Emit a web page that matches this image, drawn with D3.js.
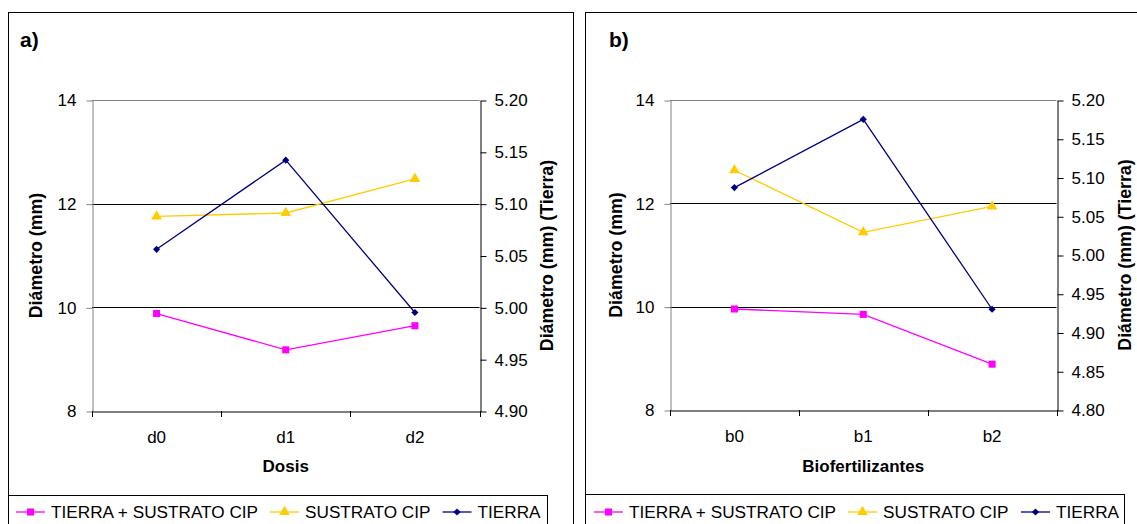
<!DOCTYPE html>
<html>
<head>
<meta charset="utf-8">
<script src="https://cdn.jsdelivr.net/npm/d3@7"></script>
<style>
  body { margin: 0; background: #fff; }
  svg { display: block; font-family: "Liberation Sans", Arial, sans-serif; }
</style>
</head>
<body>
<div id="chart"></div>
<script>
// categories
const dosisCats = ['d0', 'd1', 'd2']
const bioCats = ['b0', 'b1', 'b2']

// series values
const dosisTierraSustrato = [9.88, 9.18, 9.645]
const dosisSustrato = [11.755, 11.82, 12.48]
const dosisTierra = [5.056, 5.142, 4.995]

const bioTierraSustrato = [9.955, 9.85, 8.887]
const bioSustrato = [12.64, 11.44, 11.94]
const bioTierra = [5.087, 5.175, 4.930]

// tick labels
const leftTicks = [8, 10, 12, 14]
const rightTicksA = [4.90, 4.95, 5.00, 5.05, 5.10, 5.15, 5.20]
const rightTicksB = [4.80, 4.85, 4.90, 4.95, 5.00, 5.05, 5.10, 5.15, 5.20]

const seriesNames = ['TIERRA + SUSTRATO CIP', 'SUSTRATO CIP', 'TIERRA']
const seriesColors = ['#ff00ff', '#ffcc00', '#000080']

const W = 1137, H = 524
const svg = d3.select('#chart').append('svg').attr('width', W).attr('height', H)

// marker: square, triangle, diamond (rotated square)
function marker(sel, si) {
    if (si === 2) {
        sel.append('path')
            .attr('d', d3.symbol().type(d3.symbolSquare).size(26))
            .attr('transform', 'rotate(45)')
            .attr('fill', seriesColors[si])
    } else {
        sel.append('path')
            .attr('d', d3.symbol().type(si === 0 ? d3.symbolSquare : d3.symbolTriangle).size(50))
            .attr('fill', seriesColors[si])
    }
}

function drawPanel(p) {
    const g = svg.append('g')

    // outer frame
    g.append('rect')
        .attr('x', p.frame[0] + 0.5).attr('y', 12.5)
        .attr('width', p.frame[1] - p.frame[0]).attr('height', 600)
        .attr('fill', 'none').attr('stroke', '#000')

    g.append('text')
        .attr('x', p.labelX).attr('y', 47)
        .attr('font-size', 21).attr('font-weight', 'bold')
        .text(p.label)

    const xScale = d3.scaleBand().domain(p.cats).range([p.left, p.right])
    const yLeft = d3.scaleLinear().domain([8, 14]).range([p.bottom, p.top])
    const yRight = d3.scaleLinear().domain(p.rightDomain).range([p.bottom, p.top])

    // gridlines
    g.selectAll('.grid')
        .data([10, 12])
        .enter()
        .append('line')
        .attr('x1', p.left).attr('x2', p.right)
        .attr('y1', d => Math.round(yLeft(d)) + 0.5)
        .attr('y2', d => Math.round(yLeft(d)) + 0.5)
        .attr('stroke', '#000')

    // top border of plot area
    g.append('line')
        .attr('x1', p.left).attr('x2', p.right)
        .attr('y1', Math.round(yLeft(14)) + 0.5).attr('y2', Math.round(yLeft(14)) + 0.5)
        .attr('stroke', '#808080')

    // left axis
    const leftAxis = g.append('g')
        .attr('transform', 'translate(' + (Math.round(p.left) + 0.5) + ',0.5)')
        .call(d3.axisLeft(yLeft).tickValues(leftTicks).tickFormat(d3.format('d'))
            .tickSize(6).tickSizeOuter(0).tickPadding(10))
    leftAxis.select('.domain').attr('stroke', '#808080')
    leftAxis.selectAll('.tick line').attr('stroke', '#808080')
    leftAxis.selectAll('text').attr('font-size', 17).attr('fill', '#000')
        .attr('font-family', '"Liberation Sans", Arial, sans-serif')

    // right axis
    const rightAxis = g.append('g')
        .attr('transform', 'translate(' + (Math.round(p.right) + 0.5) + ',0.5)')
        .call(d3.axisRight(yRight).tickValues(p.rightTicks).tickFormat(d3.format('.2f'))
            .tickSize(6).tickSizeOuter(0).tickPadding(8))
    rightAxis.selectAll('text').attr('font-size', 17).attr('fill', '#000')
        .attr('font-family', '"Liberation Sans", Arial, sans-serif')

    // bottom axis: labels at band centres, ticks at band edges
    const bottomAxis = g.append('g')
        .attr('transform', 'translate(0,' + (Math.round(p.bottom) + 0.5) + ')')
        .call(d3.axisBottom(xScale).tickSize(0).tickSizeOuter(0).tickPadding(19))
    bottomAxis.select('.domain').attr('stroke', '#000')
    bottomAxis.selectAll('text').attr('font-size', 17).attr('fill', '#000')
        .attr('font-family', '"Liberation Sans", Arial, sans-serif')
    const edges = p.cats.map(c => xScale(c)).concat([xScale(p.cats[p.cats.length - 1]) + xScale.bandwidth()])
    g.selectAll('.xtick')
        .data(edges)
        .enter()
        .append('line')
        .attr('x1', d => Math.round(d) + 0.5).attr('x2', d => Math.round(d) + 0.5)
        .attr('y1', p.bottom).attr('y2', p.bottom + 6)
        .attr('stroke', '#000')

    // axis titles
    g.append('text')
        .attr('x', (p.left + p.right) / 2).attr('y', 472)
        .attr('text-anchor', 'middle').attr('font-size', 17).attr('font-weight', 'bold')
        .text(p.xTitle)
    const midY = (p.top + p.bottom) / 2
    g.append('text')
        .attr('transform', 'translate(' + p.leftTitleX + ',' + midY + ') rotate(-90)')
        .attr('text-anchor', 'middle').attr('dy', '0.35em')
        .attr('font-size', 17.8).attr('font-weight', 'bold')
        .text('Diámetro (mm)')
    g.append('text')
        .attr('transform', 'translate(' + p.rightTitleX + ',' + midY + ') rotate(-90)')
        .attr('text-anchor', 'middle').attr('dy', '0.35em')
        .attr('font-size', 17.8).attr('font-weight', 'bold')
        .text('Diámetro (mm) (Tierra)')

    // series
    const series = [
        { values: p.tierraSustrato, y: yLeft },
        { values: p.sustrato, y: yLeft },
        { values: p.tierra, y: yRight }
    ]
    series.forEach((s, si) => {
        const pts = s.values.map((v, i) => [xScale(p.cats[i]) + xScale.bandwidth() / 2, s.y(v)])
        g.append('path')
            .attr('d', d3.line()(pts))
            .attr('fill', 'none')
            .attr('stroke', seriesColors[si])
            .attr('stroke-width', 1.3)
        g.selectAll('.m' + si)
            .data(pts)
            .enter()
            .append('g')
            .attr('transform', d => 'translate(' + d[0] + ',' + d[1] + ')')
            .each(function () { marker(d3.select(this), si) })
    })

    // legend
    const lg = g.append('g')
    lg.append('rect')
        .attr('x', p.frame[0] + 0.5).attr('y', p.legendTop + 0.5)
        .attr('width', p.legendRight - p.frame[0]).attr('height', 60)
        .attr('fill', '#fff').attr('stroke', '#000')
    seriesNames.forEach((name, si) => {
        const x0 = p.legendItems[si]
        const ly = 512
        lg.append('line')
            .attr('x1', x0).attr('x2', x0 + 29)
            .attr('y1', ly).attr('y2', ly)
            .attr('stroke', seriesColors[si]).attr('stroke-width', 1.3)
        lg.append('g')
            .attr('transform', 'translate(' + (x0 + 14.5) + ',' + ly + ')')
            .call(sel => marker(sel, si))
        lg.append('text')
            .attr('x', x0 + 35).attr('y', ly).attr('dy', '0.35em')
            .attr('font-size', 17.2)
            .text(name)
    })
}

drawPanel({
    frame: [8, 573], label: 'a)', labelX: 20,
    cats: dosisCats, left: 92, right: 479.5, top: 100, bottom: 411,
    rightDomain: [4.90, 5.20], rightTicks: rightTicksA,
    tierraSustrato: dosisTierraSustrato, sustrato: dosisSustrato, tierra: dosisTierra,
    xTitle: 'Dosis', leftTitleX: 36, rightTitleX: 547,
    legendTop: 495, legendRight: 547, legendItems: [16, 270, 442.5]
})

drawPanel({
    frame: [585, 1160], label: 'b)', labelX: 609,
    cats: bioCats, left: 670, right: 1056.5, top: 100, bottom: 410,
    rightDomain: [4.80, 5.20], rightTicks: rightTicksB,
    tierraSustrato: bioTierraSustrato, sustrato: bioSustrato, tierra: bioTierra,
    xTitle: 'Biofertilizantes', leftTitleX: 615.5, rightTitleX: 1124.5,
    legendTop: 494, legendRight: 1124, legendItems: [594, 848, 1021]
})
</script>
</body>
</html>
